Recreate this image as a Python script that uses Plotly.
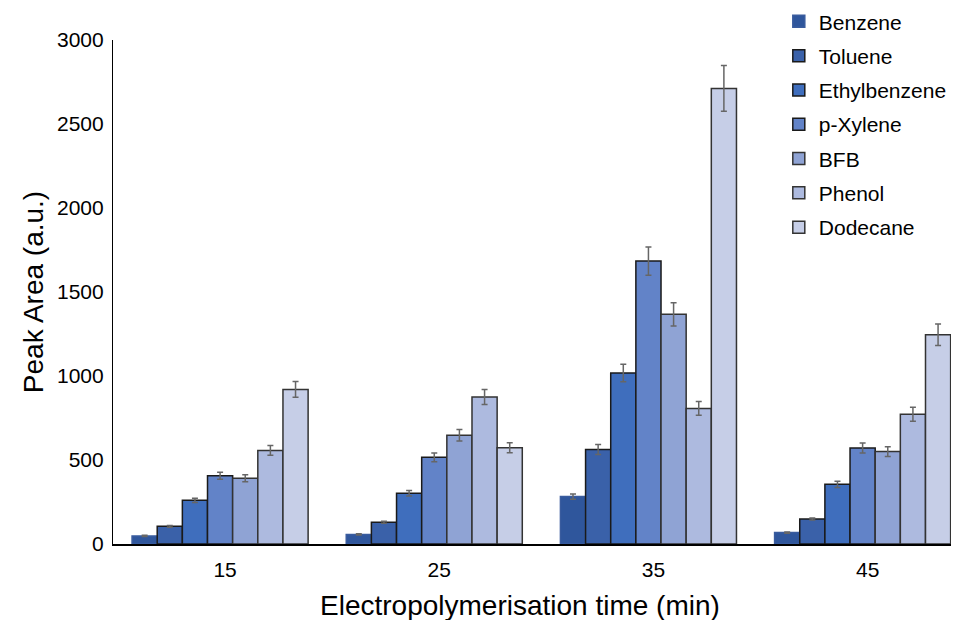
import plotly.graph_objects as go

times = ["15", "25", "35", "45"]
series_names = ["Benzene", "Toluene", "Ethylbenzene", "p-Xylene", "BFB", "Phenol", "Dodecane"]

benzene = [48, 57, 282, 68]
toluene = [105, 129, 563, 149]
ethylbenzene = [260, 302, 1018, 355]
p_xylene = [406, 516, 1684, 571]
bfb = [391, 647, 1367, 550]
phenol = [557, 875, 807, 772]
dodecane = [920, 573, 2712, 1246]

benzene_err = [4, 4, 15, 4]
toluene_err = [5, 6, 30, 6]
ethylbenzene_err = [13, 16, 52, 18]
p_xylene_err = [21, 26, 84, 30]
bfb_err = [21, 34, 69, 29]
phenol_err = [29, 44, 41, 42]
dodecane_err = [47, 30, 136, 64]

values = [benzene, toluene, ethylbenzene, p_xylene, bfb, phenol, dodecane]
errors = [benzene_err, toluene_err, ethylbenzene_err, p_xylene_err, bfb_err, phenol_err, dodecane_err]
colors = ["#2f569c", "#3a61a9", "#3f6ebd", "#6283c8", "#8fa3d4", "#adbadf", "#c6cee7"]
outline = ["#3a5c9e", "#1a1a1a", "#1a1a1a", "#1a1a1a", "#333333", "#333333", "#333333"]

fig = go.Figure()
for i, name in enumerate(series_names):
    fig.add_trace(go.Bar(
        x=times, y=values[i], name=name,
        legendgroup=name,
        marker=dict(color=colors[i], line=dict(color=outline[i], width=1.5)),
        error_y=dict(type="data", array=errors[i], visible=True,
                     color="#666666", thickness=1.5, width=3),
    ))

fig.update_layout(
    width=959, height=620,
    barmode="group", bargap=0.178, bargroupgap=0,
    paper_bgcolor="white", plot_bgcolor="white",
    margin=dict(l=105, r=8, t=32, b=84, autoexpand=False),
    font=dict(family="Liberation Sans, Arial, sans-serif", color="#000000", size=21),
    legend=dict(x=0.787, y=1.077, xref="paper", yref="paper",
                xanchor="left", yanchor="top",
                font=dict(size=21), tracegroupgap=4, itemwidth=30,
                bgcolor="rgba(0,0,0,0)"),
    xaxis=dict(
        range=[-0.5, 3.45], showline=True, linecolor="#000000", linewidth=1.5,
        ticks="", showgrid=False, tickfont=dict(size=21), automargin=False,
        ticklabelstandoff=6, ticklabelshift=5,
    ),
    yaxis=dict(
        title=dict(text="Peak Area (a.u.)", font=dict(size=28), standoff=5),
        range=[0, 3000], tickvals=[0, 500, 1000, 1500, 2000, 2500, 3000],
        showline=True, linecolor="#000000", linewidth=1.2,
        ticks="", showgrid=False, zeroline=False, tickfont=dict(size=21),
        automargin=False, ticklabelstandoff=4,
    ),
    annotations=[dict(
        text="Electropolymerisation time (min)", xref="paper", yref="paper",
        x=(520 - 113) / 846, y=-0.123, xanchor="center", yanchor="middle",
        showarrow=False, font=dict(size=28),
    )],
    showlegend=True,
)

fig.write_html("out.html")
